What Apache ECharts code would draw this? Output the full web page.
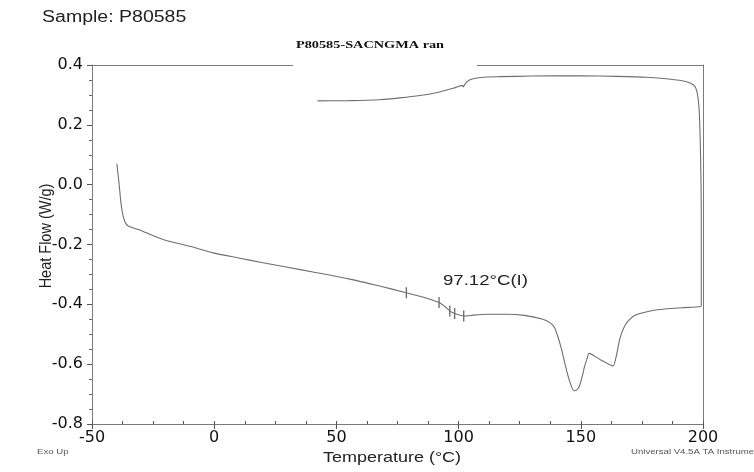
<!DOCTYPE html>
<html>
<head>
<meta charset="utf-8">
<script src="https://cdn.jsdelivr.net/npm/echarts@6/dist/echarts.min.js"></script>
<style>
html,body{margin:0;padding:0;background:#fff;}
#chart{width:754px;height:472px;}
</style>
</head>
<body>
<div id="chart"></div>
<script>
// ---- Data ----
// Heating trace: temperature (°C) and heat flow (W/g)
var heatingT  = [-39.8, -39.5, -38.95, -38.3, -37.6, -36.8, -35.92, -34.57, -31, -27.74, -20.95, -10, -0.49, 10, 19.97, 30, 40.43, 55, 67.7,
                 78.6, 86, 92.0, 94.5, 96.4, 98.4, 102.1, 104, 105.9, 112, 119.6, 127, 134.5, 137.5, 139.3, 140.7, 142.1, 143.5,
                 144.8, 146.2, 147.3, 148.4, 149.5, 150.6, 151.6, 152.5, 153.4, 158, 163.2, 164.6, 165.9, 167.5, 169.3, 172,
                 175.5, 180, 186.4, 192, 198.6, 199.3];
var heatingHF = [0.07, 0.045, 0.006, -0.05, -0.092, -0.118, -0.133, -0.141, -0.15, -0.161, -0.183, -0.206, -0.228, -0.245, -0.261, -0.276, -0.292, -0.315, -0.339,
                 -0.361, -0.377, -0.394, -0.408, -0.422, -0.431, -0.439, -0.438, -0.436, -0.433, -0.433, -0.437, -0.45, -0.462, -0.478, -0.51, -0.55, -0.598,
                 -0.64, -0.675, -0.689, -0.686, -0.672, -0.64, -0.606, -0.583, -0.564, -0.585, -0.606, -0.57, -0.517, -0.48, -0.456, -0.437,
                 -0.428, -0.42, -0.414, -0.411, -0.408, -0.405];
// Return jump and cooling trace
var coolingT  = [199.3, 199.3, 199.2, 199.0, 198.6, 198.1, 197.2, 196.0, 193.3, 186, 176.9, 165, 149.5, 130, 116.8, 111.4, 105.9, 103.2,
                 101.9, 101.6, 97.7, 92.3, 84.2, 76, 67.7, 55, 42.3];
var coolingHF = [-0.3, -0.1, 0.0, 0.1, 0.22, 0.28, 0.32, 0.334, 0.344, 0.353, 0.359, 0.362, 0.364, 0.363, 0.361, 0.36, 0.354, 0.343,
                 0.327, 0.332, 0.322, 0.31, 0.298, 0.29, 0.284, 0.281, 0.28];
// Analysis tick marks on the heating curve
var markT  = [78.6, 92.0, 96.4, 98.4, 102.1];
var markHF = [-0.361, -0.394, -0.422, -0.431, -0.439];
// Axis ticks
var xTicks = [-50, 0, 50, 100, 150, 200];
var yTicks = [-0.8, -0.6, -0.4, -0.2, 0.0, 0.2, 0.4];

var trace = [];
heatingT.forEach(function (t, i) { trace.push([t, heatingHF[i]]); });
coolingT.forEach(function (t, i) { trace.push([t, coolingHF[i]]); });
var marks = markT.map(function (t, i) { return [t, markHF[i]]; });

var chart = echarts.init(document.getElementById('chart'), null, {renderer: 'canvas'});
var labelFont = {fontFamily: 'DejaVu Sans', fontSize: 16, color: '#111'};
var axisGray = '#7a7a7a';

var GL = 92, GT = 65, GR = 703, GB = 424;

chart.setOption({
  animation: false,
  backgroundColor: '#fff',
  grid: {left: GL, top: GT, right: 754 - GR, bottom: 472 - GB, containLabel: false},
  xAxis: [{
    type: 'value', position: 'bottom',
    min: xTicks[0], max: xTicks[xTicks.length - 1], interval: 50,
    axisLine: {show: true, onZero: false, lineStyle: {color: axisGray, width: 1}},
    axisTick: {show: true, inside: false, length: 5, lineStyle: {color: '#555'}},
    axisLabel: Object.assign({margin: 6}, labelFont),
    splitLine: {show: false}
  }, {
    type: 'value', position: 'bottom',
    min: xTicks[0], max: xTicks[xTicks.length - 1], interval: 12.5,
    axisLine: {show: false, onZero: false},
    axisTick: {show: true, inside: true, length: 3, lineStyle: {color: '#555'}},
    axisLabel: {show: false},
    splitLine: {show: false}
  }],
  yAxis: [{
    type: 'value', position: 'left',
    min: yTicks[0], max: yTicks[yTicks.length - 1], interval: 0.2,
    axisLine: {show: true, onZero: false, lineStyle: {color: axisGray, width: 1}},
    axisTick: {show: true, inside: false, length: 5, lineStyle: {color: '#555'}},
    minorTick: {show: true, splitNumber: 4, length: 3, lineStyle: {color: '#666'}},
    axisLabel: Object.assign({margin: 9, formatter: function (v) { return v.toFixed(1); }}, labelFont),
    splitLine: {show: false}
  }, {
    type: 'value', position: 'right',
    min: yTicks[0], max: yTicks[yTicks.length - 1], interval: 0.2,
    axisLine: {show: true, onZero: false, lineStyle: {color: axisGray, width: 1}},
    axisTick: {show: false}, axisLabel: {show: false}, splitLine: {show: false}
  }],
  series: [{
    type: 'line', xAxisIndex: 0, yAxisIndex: 0,
    data: trace, showSymbol: false, symbol: 'none', smooth: 0.2,
    lineStyle: {color: '#6e6e6e', width: 1.1}
  }, {
    type: 'scatter', xAxisIndex: 0, yAxisIndex: 0,
    data: marks, symbol: 'rect', symbolSize: [1.2, 11],
    itemStyle: {color: '#333'}
  }],
  graphic: [
    {type: 'line', shape: {x1: GL, y1: GT + 0.5, x2: 293, y2: GT + 0.5}, style: {stroke: axisGray, lineWidth: 1}},
    {type: 'line', shape: {x1: 477, y1: GT + 0.5, x2: GR, y2: GT + 0.5}, style: {stroke: axisGray, lineWidth: 1}},
    {type: 'text', x: 42, y: 18, scaleX: 1.22,
     style: {text: 'Sample: P80585', font: '16px "Liberation Sans"', fill: '#222', textAlign: 'left', textVerticalAlign: 'middle', verticalAlign: 'middle'}},
    {type: 'text', x: 370, y: 45, scaleX: 1.3,
     style: {text: 'P80585-SACNGMA ran', font: 'bold 11px "Liberation Serif"', fill: '#111', textAlign: 'center', align: 'center', textVerticalAlign: 'middle', verticalAlign: 'middle'}},
    {type: 'text', x: 46, y: 236, rotation: Math.PI / 2, scaleY: 1.2,
     style: {text: 'Heat Flow (W/g)', font: '14.5px "Liberation Sans"', fill: '#222', textAlign: 'center', align: 'center', textVerticalAlign: 'middle', verticalAlign: 'middle'}},
    {type: 'text', x: 392, y: 458, scaleX: 1.2,
     style: {text: 'Temperature (°C)', font: '15px "Liberation Sans"', fill: '#222', textAlign: 'center', align: 'center', textVerticalAlign: 'middle', verticalAlign: 'middle'}},
    {type: 'text', x: 443, y: 281, scaleX: 1.2,
     style: {text: '97.12°C(I)', font: '15.5px "Liberation Sans"', fill: '#222', textAlign: 'left', textVerticalAlign: 'middle', verticalAlign: 'middle'}},
    {type: 'text', x: 37, y: 452, scaleX: 1.2,
     style: {text: 'Exo Up', font: '8px "Liberation Sans"', fill: '#555', textAlign: 'left', textVerticalAlign: 'middle', verticalAlign: 'middle'}},
    {type: 'text', x: 631, y: 452, scaleX: 1.2,
     style: {text: 'Universal V4.5A TA Instruments', font: '8px "Liberation Sans"', fill: '#555', textAlign: 'left', textVerticalAlign: 'middle', verticalAlign: 'middle'}}
  ]
});
</script>
</body>
</html>
